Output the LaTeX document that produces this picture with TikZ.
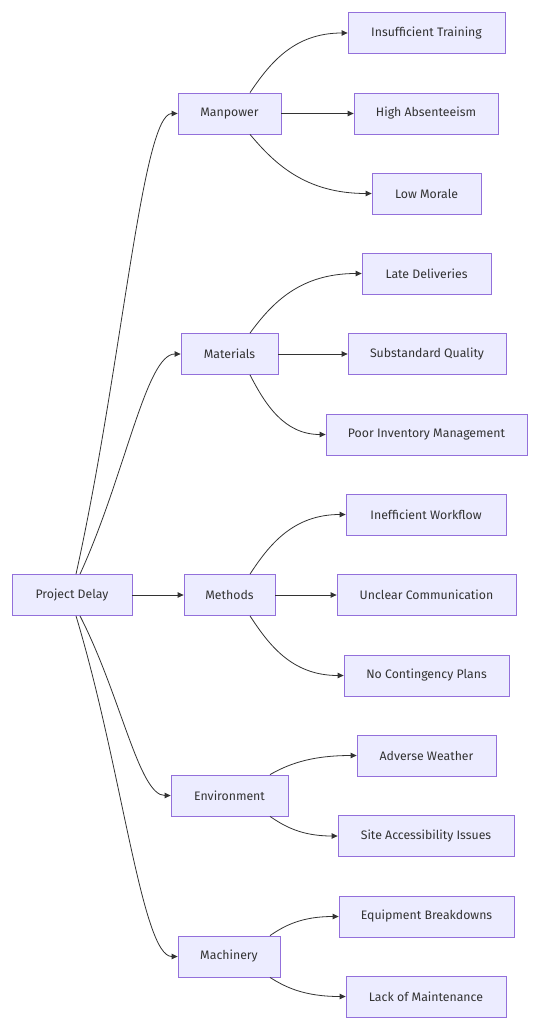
\documentclass[tikz,border=0pt]{standalone}
\usepackage{fontspec}
\setmainfont{Fira Sans}
\usepackage{tikz}
\usetikzlibrary{arrows.meta}

\definecolor{boxfill}{HTML}{ECECFF}
\definecolor{boxline}{HTML}{9370DB}
\definecolor{inkgray}{HTML}{333333}

\begin{document}
\begin{tikzpicture}[
		x=1pt, y=-1pt,
		every node/.style={rectangle, draw=boxline, fill=boxfill, line width=0.8pt,
			minimum height=41pt, inner sep=0pt, text=inkgray,
			font=\fontsize{12.3}{14}\selectfont},
		link/.style={draw=inkgray, line width=0.8pt, -{Triangle[length=6pt, width=5.5pt]}}
	]
  \useasboundingbox (0,0) rectangle (533,1024);
  % root and the five categories
  \node (pd) [minimum width=120pt] at (72, 595) {Project Delay};
  \node (man) [minimum width=103pt] at (229.5, 113.5) {Manpower};
  \node (mat) [minimum width=97pt] at (229.5, 354) {Materials};
  \node (met) [minimum width=91pt] at (229.5, 595) {Methods};
  \node (env) [minimum width=117pt] at (229.5, 795.5) {Environment};
  \node (mach) [minimum width=102pt] at (229, 956.5) {Machinery};
  % causes
  \node (train) [minimum width=157pt] at (426.5, 33) {Insufficient Training};
  \node (absent) [minimum width=144pt] at (426, 113.5) {High Absenteeism};
  \node (morale) [minimum width=109pt] at (426.5, 193.5) {Low Morale};
  \node (late) [minimum width=129pt] at (426.5, 273.5) {Late Deliveries};
  \node (quality) [minimum width=158pt] at (427, 354) {Substandard Quality};
  \node (stock) [minimum width=201pt] at (426.5, 434.5) {Poor Inventory Management};
  \node (flow) [minimum width=160pt] at (426, 514.5) {Inefficient Workflow};
  \node (comm) [minimum width=179pt] at (426.5, 595) {Unclear Communication};
  \node (plans) [minimum width=165pt] at (426.5, 675.5) {No Contingency Plans};
  \node (weather) [minimum width=139pt] at (426.5, 755.5) {Adverse Weather};
  \node (access) [minimum width=176pt] at (426, 836) {Site Accessibility Issues};
  \node (break) [minimum width=175pt] at (426.5, 916.5) {Equipment Breakdowns};
  \node (maint) [minimum width=160pt] at (426, 996.5) {Lack of Maintenance};
  % root -> categories
  \draw[link] ([xshift=4pt]pd.north) .. controls (122,367) and (142,113.5) .. (man.west);
  \draw[link] ([xshift=8pt]pd.north) .. controls (125,476) and (146,354) .. (mat.west);
  \draw[link] (pd.east) -- (met.west);
  \draw[link] ([xshift=8pt]pd.south) .. controls (121,696) and (139,795.5) .. (env.west);
  \draw[link] ([xshift=4pt]pd.south) .. controls (122,768) and (142,956.5) .. (mach.west);
  % categories -> causes
  \draw[link] ([xshift=20.5pt]man.north) .. controls (270,63) and (294,33) .. (train.west);
  \draw[link] (man.east) -- (absent.west);
  \draw[link] ([xshift=20.5pt]man.south) .. controls (274,163) and (305,193.5) .. (morale.west);
  \draw[link] ([xshift=20.5pt]mat.north) .. controls (272,303) and (300,273.5) .. (late.west);
  \draw[link] (mat.east) -- (quality.west);
  \draw[link] ([xshift=20.5pt]mat.south) .. controls (265,404) and (284,434.5) .. (stock.west);
  \draw[link] ([xshift=20.5pt]met.north) .. controls (269,545) and (293,514.5) .. (flow.west);
  \draw[link] (met.east) -- (comm.west);
  \draw[link] ([xshift=20.5pt]met.south) .. controls (269,645) and (292,675.5) .. (plans.west);
  \draw[link] ([xshift=40.5pt]env.north) .. controls (287,765) and (309,755.5) .. (weather.west);
  \draw[link] ([xshift=40.5pt]env.south) .. controls (284,826) and (301,836) .. (access.west);
  \draw[link] ([xshift=41pt]mach.north) .. controls (284,926) and (301,916.5) .. (break.west);
  \draw[link] ([xshift=41pt]mach.south) .. controls (285,987) and (304,996.5) .. (maint.west);
\end{tikzpicture}
\end{document}
